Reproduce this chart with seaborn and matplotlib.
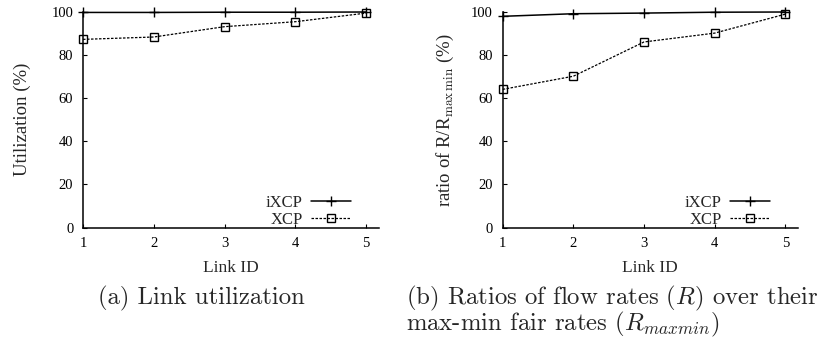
import matplotlib
matplotlib.use("Agg")
import matplotlib.pyplot as plt
import seaborn as sns
import pandas as pd

# data
link_ids = [1, 2, 3, 4, 5]
ixcp_util = [99.8, 99.8, 99.9, 99.9, 100.0]
xcp_util = [87.3, 88.4, 93.2, 95.5, 99.5]
ixcp_ratio = [98.0, 99.2, 99.5, 99.9, 100.0]
xcp_ratio = [64.1, 70.2, 86.1, 90.2, 99.0]
series_names = ["iXCP", "XCP"]
y_ticks = [0, 20, 40, 60, 80, 100]

util_df = pd.DataFrame({"link": link_ids, "iXCP": ixcp_util, "XCP": xcp_util})
ratio_df = pd.DataFrame({"link": link_ids, "iXCP": ixcp_ratio, "XCP": xcp_ratio})

sns.set_style("ticks")
plt.rcParams["font.family"] = ["Liberation Serif", "DejaVu Serif"]
plt.rcParams["mathtext.fontset"] = "cm"
plt.rcParams["xtick.direction"] = "in"
plt.rcParams["ytick.direction"] = "in"

fig = plt.figure(figsize=(8.26, 3.41), dpi=100)
ax1 = fig.add_axes([0.1005, 0.3328, 0.3583, 0.632])
ax2 = fig.add_axes([0.6086, 0.3328, 0.3575, 0.632])


def draw_panel(ax, df, ylabel, lpad):
    sns.lineplot(data=df, x="link", y="iXCP", ax=ax, color="black", lw=1.1,
                 marker="+", markersize=6.5, mew=1.0, markeredgecolor="black",
                 label=series_names[0], clip_on=False, zorder=3)
    sns.lineplot(data=df, x="link", y="XCP", ax=ax, color="black", lw=0.9,
                 linestyle=(0, (2, 1.2)), marker="s", markersize=5.5,
                 markerfacecolor="none", markeredgecolor="black", mew=1.0,
                 label=series_names[1], clip_on=False, zorder=3)
    ax.set_xlim(1, 5.18)
    ax.set_ylim(0, 100)
    ax.set_xticks(link_ids)
    ax.set_yticks(y_ticks)
    ax.tick_params(length=3, width=0.8, labelsize=10.5, colors="black", pad=7)
    for s in ["top", "right"]:
        ax.spines[s].set_visible(False)
    for s in ["left", "bottom"]:
        ax.spines[s].set_linewidth(1.1)
        ax.spines[s].set_color("black")
    ax.set_xlabel("Link ID", fontsize=12.5, labelpad=7)
    ax.set_ylabel(ylabel, fontsize=13.5, labelpad=lpad)
    ax.legend(loc="lower right", bbox_to_anchor=(0.945, -0.055), frameon=False,
              markerfirst=False, fontsize=12, handlelength=2.4,
              handletextpad=0.5, labelspacing=0.05, borderpad=0.2)


draw_panel(ax1, util_df, "Utilization (%)", 15)
draw_panel(ax2, ratio_df, r"ratio of R/R$_{\rm max\,min}$ (%)", 11)

cap = dict(fontsize=17.8, family="cmr10", va="baseline")
fig.text(0.2433, 0.1085, "(a) Link utilization", ha="center", **cap)
fig.text(0.4915, 0.1085, r"(b) Ratios of flow rates ($R$) over their", ha="left", **cap)
fig.text(0.4915, 0.03, r"max-min fair rates ($R_{maxmin}$)", ha="left", **cap)

fig.savefig("out.png", dpi=100)
